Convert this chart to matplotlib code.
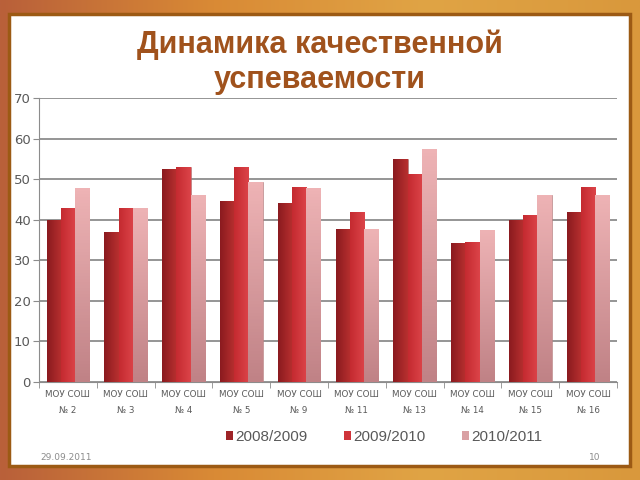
import numpy as np
import matplotlib
matplotlib.use("Agg")
import matplotlib.pyplot as plt
from matplotlib.patches import Rectangle, Patch
from matplotlib.colors import LinearSegmentedColormap

# data
schools = ["№ 2", "№ 3", "№ 4", "№ 5", "№ 9", "№ 11", "№ 13", "№ 14", "№ 15", "№ 16"]
years = ["2008/2009", "2009/2010", "2010/2011"]
y0809 = [40.0, 37.0, 52.5, 44.5, 44.0, 37.8, 54.9, 34.2, 40.0, 41.9]
y0910 = [43.0, 43.0, 52.9, 53.1, 48.1, 42.0, 51.2, 34.6, 41.1, 48.0]
y1011 = [47.8, 42.9, 46.2, 49.2, 47.7, 37.7, 57.4, 37.5, 46.0, 46.0]

# gradient (start, end, direction) per series
grads = [("#8a1a1f", "#b8302f", "h"),
         ("#c42a30", "#dc4449", "h"),
         ("#eeb3b5", "#c08286", "v")]
solid = ["#9e2428", "#cf343a", "#d9a0a3"]

fig = plt.figure(figsize=(6.4, 4.8), dpi=100)

# orange slide frame
bg = fig.add_axes([0, 0, 1, 1])
bg.set_axis_off()
grad_bg = np.linspace(0, 1, 256).reshape(1, -1)
bg_cmap = LinearSegmentedColormap.from_list("bg", ["#b9603a", "#d98a35", "#e0a445", "#d9983c"])
bg.imshow(grad_bg, aspect="auto", cmap=bg_cmap, extent=[0, 1, 0, 1])
bg.add_patch(Rectangle((9 / 640, 14 / 480), 621 / 640, 452 / 480,
                       facecolor="white", edgecolor="#9c5a14", lw=2.5))
bg.set_xlim(0, 1)
bg.set_ylim(0, 1)

fig.text(0.5, 0.907, "Динамика качественной", ha="center", va="center",
         fontsize=22, fontweight="bold", color="#a0521c", family="Liberation Sans")
fig.text(0.5, 0.833, "успеваемости", ha="center", va="center",
         fontsize=22, fontweight="bold", color="#a0521c", family="Liberation Sans")

ax = fig.add_axes([39 / 640, 1 - 382 / 480, 578 / 640, 284 / 480])
ax.set_facecolor("none")

x = np.arange(len(schools))
w = 0.245
series = [y0809, y0910, y1011]
for i, vals in enumerate(series):
    bars = ax.bar(x + (i - 1) * w, vals, w, color=solid[i], edgecolor="#b07a7a",
                  linewidth=0.4, zorder=3)
    c0, c1, d = grads[i]
    cm = LinearSegmentedColormap.from_list("g%d" % i, [c0, c1])
    for b in bars:
        bx, by = b.get_x(), b.get_y()
        bw, bh = b.get_width(), b.get_height()
        if d == "h":
            img = np.linspace(0, 1, 64).reshape(1, -1)
        else:
            img = np.linspace(0, 1, 64).reshape(-1, 1)
        im = ax.imshow(img, cmap=cm, aspect="auto", extent=[bx, bx + bw, by, by + bh],
                       origin="upper", zorder=3.5)
        im.set_clip_path(b)

ax.set_xlim(-0.5, len(schools) - 0.5)
ax.set_ylim(0, 70)
ax.set_yticks(range(0, 71, 10))
ax.yaxis.grid(True, color="#8c8c8c", lw=1.3, zorder=0)
ax.set_axisbelow(True)
for s in ["top", "right"]:
    ax.spines[s].set_visible(False)
ax.spines["left"].set_color("#8c8c8c")
ax.spines["bottom"].set_color("#8c8c8c")
ax.tick_params(axis="y", colors="#8c8c8c", labelcolor="#595959", labelsize=9.5,
               length=4, pad=2)
ax.set_xticks(x)
ax.set_xticklabels(["МОУ СОШ\n" + s for s in schools], fontsize=6.3,
                   color="#595959", linespacing=1.9)
ax.tick_params(axis="x", length=0, pad=6)
ax.set_xticks(np.arange(-0.5, len(schools), 1), minor=True)
ax.tick_params(axis="x", which="minor", length=4, color="#8c8c8c")

handles = [Patch(facecolor=solid[i], edgecolor="none") for i in range(3)]
fig.legend(handles, years, loc="center", bbox_to_anchor=(384 / 640, 1 - 437 / 480),
           ncol=3, frameon=False, prop={"family": "Liberation Sans", "size": 11},
           labelcolor="#595959", handlelength=0.45, handleheight=0.45,
           handletextpad=0.15, columnspacing=2.4)

fig.text(40 / 640, 1 - 458 / 480, "29.09.2011", fontsize=6.5, color="#8c8c8c",
         va="center")
fig.text(600 / 640, 1 - 458 / 480, "10", fontsize=6.5, color="#8c8c8c",
         va="center", ha="right")

fig.savefig("out.png", dpi=100)
